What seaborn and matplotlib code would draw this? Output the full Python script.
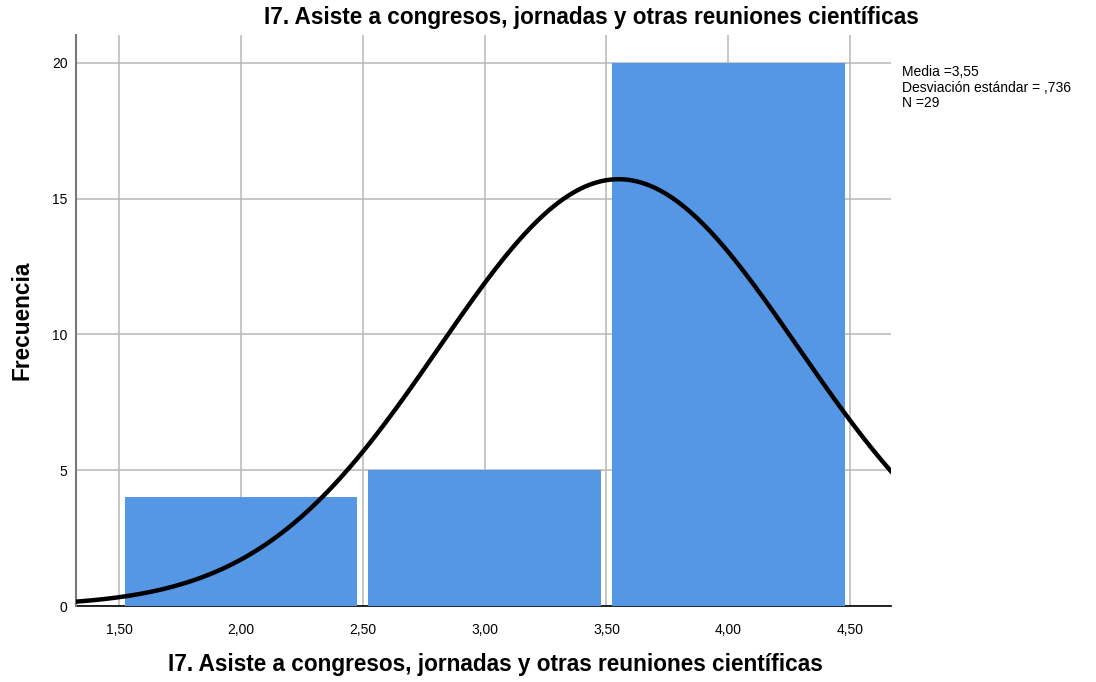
import numpy as np
import pandas as pd
import matplotlib
matplotlib.use("Agg")
import matplotlib.pyplot as plt
import seaborn as sns

# Response values and their frequencies
valores = [2, 3, 4]
frecuencias = [4, 5, 20]
bordes = [1.5, 2.5, 3.5, 4.5]

media = 3.55
desviacion = 0.736
n_total = 29

x_ticks = [1.5, 2.0, 2.5, 3.0, 3.5, 4.0, 4.5]
y_ticks = [0, 5, 10, 15, 20]

titulo = "I7. Asiste a congresos, jornadas y otras reuniones científicas"

sns.set_theme(style="white")
plt.rcParams["font.family"] = ["Liberation Sans", "DejaVu Sans"]
plt.rcParams["text.color"] = "black"

datos = pd.DataFrame({"I7": np.repeat(valores, frecuencias)})

fig = plt.figure(figsize=(10.96, 6.82), dpi=100)
ax = fig.add_axes([0.0693, 0.1114, 0.7437, 0.8373])

ax.set_axisbelow(True)
ax.grid(True, color="#b8b8b8", linewidth=1.1)

sns.histplot(data=datos, x="I7", bins=bordes, shrink=0.955, color="#5596e5",
             alpha=1.0, edgecolor="none", linewidth=0, ax=ax, zorder=2)

# Fitted normal curve scaled to counts (bin width = 1)
xs = np.linspace(1.2, 4.8, 400)
ancho = bordes[1] - bordes[0]
ys = n_total * ancho / (desviacion * np.sqrt(2 * np.pi)) * np.exp(-0.5 * ((xs - media) / desviacion) ** 2)
sns.lineplot(x=xs, y=ys, color="black", linewidth=3.2, ax=ax, zorder=3)

ax.set_xlim(1.323, 4.668)
ax.set_ylim(0, 21.03)
ax.set_xticks(x_ticks)
ax.set_xticklabels([f"{t:.2f}".replace(".", ",") for t in x_ticks], fontsize=10)
ax.set_yticks(y_ticks)
ax.set_yticklabels([str(t) for t in y_ticks], fontsize=10)
ax.tick_params(axis="x", length=0, pad=12, labelcolor="black")
ax.tick_params(axis="y", length=0, pad=6, labelcolor="black")
ax.set_xlabel("")
ax.set_ylabel("")

for lado in ["top", "right"]:
    ax.spines[lado].set_visible(False)
ax.spines["left"].set_color("#777777")
ax.spines["left"].set_linewidth(1.5)
ax.spines["bottom"].set_color("black")
ax.spines["bottom"].set_linewidth(1.2)
ax.spines["bottom"].set_zorder(1)

fig.text(0.540, 0.975, titulo, ha="center", va="center", fontsize=16.3,
         fontweight="bold", color="black")
fig.text(0.452, 0.026, titulo, ha="center", va="center", fontsize=16.3,
         fontweight="bold", color="black")
fig.text(0.020, 0.530, "Frecuencia", ha="center", va="center", rotation=90,
         fontsize=16.3, fontweight="bold", color="black")

info = f"Media ={media:.2f}".replace(".", ",") + "\n" + \
       "Desviación estándar = ,736" + "\n" + f"N ={n_total}"
fig.text(0.823, 0.904, info, ha="left", va="top", fontsize=10, linespacing=1.1,
         color="black")

fig.savefig("out.png", dpi=100)
